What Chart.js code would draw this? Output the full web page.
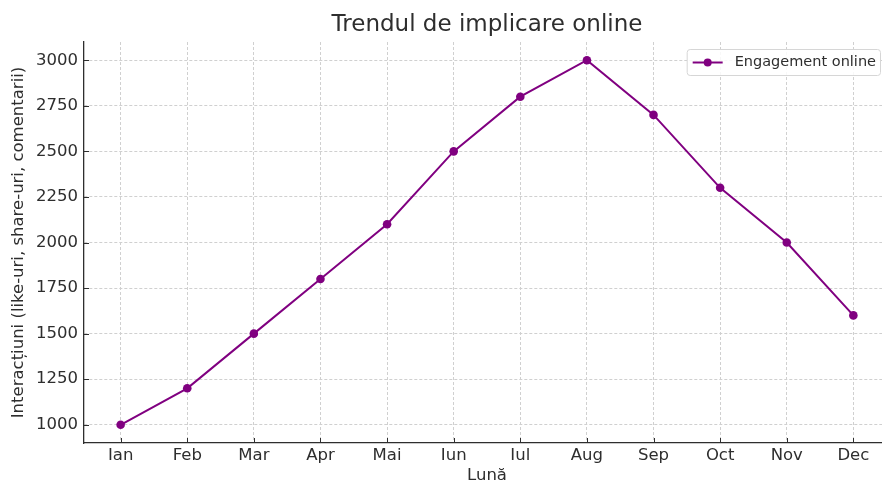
<!DOCTYPE html>
<html>
<head>
<meta charset="utf-8">
<script src="https://cdn.jsdelivr.net/npm/chart.js@4"></script>
<style>
  html, body { margin: 0; padding: 0; background: #fff; overflow: hidden; }
  /* the reference figure is cropped on the right, so the canvas runs a little past the window */
  #wrap { width: 890px; height: 484px; }
</style>
</head>
<body>
<div id="wrap"><canvas id="chart"></canvas></div>
<script>
const months = ['Ian', 'Feb', 'Mar', 'Apr', 'Mai', 'Iun', 'Iul', 'Aug', 'Sep', 'Oct', 'Nov', 'Dec']
const engagement = [1000, 1200, 1500, 1800, 2100, 2500, 2800, 3000, 2700, 2300, 2000, 1600]
const yTicks = [1000, 1250, 1500, 1750, 2000, 2250, 2500, 2750, 3000]

const chartTitle = 'Trendul de implicare online'
const xLabel = 'Lună'
const yLabel = 'Interacțiuni (like-uri, share-uri, comentarii)'
const seriesLabel = 'Engagement online'

const purple = '#800080'
const textColor = '#2e2e2e'
const FONT = "'DejaVu Sans', sans-serif"

// title centred over the plot area, like matplotlib does
const titlePlugin = {
  id: 'plotTitle',
  afterDraw(chart) {
    const { ctx, chartArea } = chart
    ctx.save()
    ctx.font = `23px ${FONT}`
    ctx.fillStyle = textColor
    ctx.textAlign = 'center'
    ctx.textBaseline = 'middle'
    ctx.fillText(chartTitle, (chartArea.left + chartArea.right) / 2, 25)
    ctx.restore()
  }
}

// short inward tick marks
const innerTicks = {
  id: 'innerTicks',
  afterDatasetsDraw(chart) {
    const { ctx, chartArea, scales } = chart
    ctx.save()
    ctx.strokeStyle = textColor
    ctx.lineWidth = 1
    ctx.beginPath()
    scales.x.ticks.forEach(t => {
      const px = Math.round(scales.x.getPixelForValue(t.value)) + 0.5
      ctx.moveTo(px, chartArea.bottom)
      ctx.lineTo(px, chartArea.bottom - 5)
    })
    scales.y.ticks.forEach(t => {
      const py = Math.round(scales.y.getPixelForValue(t.value)) + 0.5
      ctx.moveTo(chartArea.left, py)
      ctx.lineTo(chartArea.left + 5, py)
    })
    ctx.stroke()
    ctx.restore()
  }
}

// matplotlib-style legend box with line + marker
const boxLegend = {
  id: 'boxLegend',
  afterDraw(chart) {
    const { ctx, chartArea } = chart
    const ds = chart.data.datasets[0]
    ctx.save()
    ctx.font = `14.5px ${FONT}`
    const tw = ctx.measureText(ds.label).width
    const w = tw + 52, h = 26
    const x = chartArea.right - 10 - w, y = 49
    ctx.fillStyle = 'rgba(255,255,255,0.85)'
    ctx.strokeStyle = '#d6d6d6'
    ctx.lineWidth = 1
    ctx.beginPath()
    ctx.roundRect(x + 0.5, y + 0.5, w, h, 3)
    ctx.fill()
    ctx.stroke()
    const cy = y + h / 2 + 0.5
    ctx.strokeStyle = ds.borderColor
    ctx.lineWidth = 2
    ctx.beginPath()
    ctx.moveTo(x + 6, cy)
    ctx.lineTo(x + 36, cy)
    ctx.stroke()
    ctx.fillStyle = ds.borderColor
    ctx.beginPath()
    ctx.arc(x + 21, cy, 4, 0, Math.PI * 2)
    ctx.fill()
    ctx.fillStyle = textColor
    ctx.textBaseline = 'middle'
    ctx.fillText(ds.label, x + 48, cy)
    ctx.restore()
  }
}

new Chart(document.getElementById('chart'), {
  type: 'line',
  data: {
    datasets: [{
      label: seriesLabel,
      data: engagement.map((v, i) => ({ x: i, y: v })),
      borderColor: purple,
      backgroundColor: purple,
      borderWidth: 2,
      pointRadius: 4.3,
      pointHoverRadius: 4.3,
      pointBorderWidth: 0,
      tension: 0
    }]
  },
  options: {
    responsive: true,
    maintainAspectRatio: false,
    animation: false,
    layout: { autoPadding: false, padding: { top: 42, left: 0, right: 0, bottom: 0 } },
    plugins: {
      legend: { display: false },
      title: { display: false },
      tooltip: { enabled: false }
    },
    scales: {
      x: {
        type: 'linear',
        min: -0.55,
        max: 11.55,
        afterBuildTicks: scale => { scale.ticks = months.map((m, i) => ({ value: i })) },
        afterFit: scale => { scale.height = 41 },
        ticks: {
          autoSkip: false,
          maxRotation: 0,
          padding: 3,
          color: textColor,
          font: { family: FONT, size: 16.5 },
          callback: v => months[v]
        },
        grid: { color: '#d0d0d0', lineWidth: 1, drawTicks: false },
        border: { display: true, color: textColor, width: 1.3, dash: [3, 2] },
        title: {
          display: true,
          text: xLabel,
          color: textColor,
          font: { family: FONT, size: 16.5, lineHeight: 1 },
          padding: 0
        }
      },
      y: {
        min: 900,
        max: 3100,
        afterBuildTicks: scale => { scale.ticks = yTicks.map(v => ({ value: v })) },
        afterFit: scale => { scale.width = 84 },
        ticks: {
          padding: 6,
          color: textColor,
          font: { family: FONT, size: 16.5 },
          callback: v => String(v)
        },
        grid: { color: '#d0d0d0', lineWidth: 1, drawTicks: false },
        border: { display: true, color: textColor, width: 1.3, dash: [3, 2] },
        title: {
          display: true,
          text: yLabel,
          color: textColor,
          font: { family: FONT, size: 16.5, lineHeight: 1 },
          padding: { top: 10, bottom: 0 }
        }
      }
    }
  },
  plugins: [titlePlugin, innerTicks, boxLegend]
})
</script>
</body>
</html>
